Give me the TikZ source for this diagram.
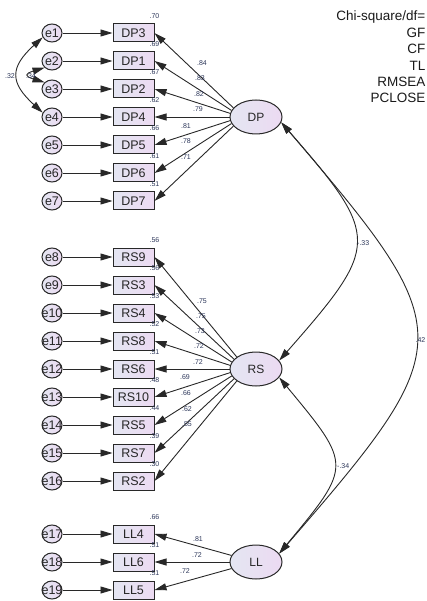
\documentclass[tikz,border=0pt]{standalone}
\usepackage{fontspec}
\setmainfont{Liberation Sans}
\usetikzlibrary{shapes.geometric,arrows.meta}

\definecolor{fillL}{RGB}{228,230,242}
\definecolor{fillR}{RGB}{236,218,242}
\definecolor{lnc}{RGB}{40,40,40}
\definecolor{numc}{RGB}{45,55,90}

\tikzset{
  err/.style={ellipse, draw=lnc, line width=1pt, left color=fillL, right color=fillR,
    minimum width=20pt, minimum height=18pt, inner sep=-5pt, text=black!85,
    font=\fontsize{12.5}{13}\selectfont},
  obs/.style={rectangle, draw=lnc, line width=1pt, left color=fillL, right color=fillR,
    minimum width=41pt, minimum height=18pt, inner sep=0pt, text=black!85,
    font=\fontsize{12.5}{13}\selectfont},
  lat/.style={ellipse, draw=lnc, line width=1pt, left color=fillL, right color=fillR,
    minimum width=52pt, minimum height=34pt, inner sep=0pt, text=black!85,
    font=\fontsize{12}{13}\selectfont},
  arr/.style={draw=lnc, line width=0.9pt, -{Triangle[length=12pt,width=7pt]}},
  cov/.style={draw=lnc, line width=0.9pt, {Triangle[length=12pt,width=7pt]}-{Triangle[length=12pt,width=7pt]}},
  num/.style={font=\fontsize{7}{8}\selectfont, text=numc, inner sep=0pt},
  gof/.style={font=\fontsize{13.5}{15}\selectfont, text=black!90, inner sep=0pt, anchor=base east},
}

\begin{document}
\begin{tikzpicture}[x=1pt,y=-1pt]
  \useasboundingbox (0,0) rectangle (426,601);

  % factors
  \node[lat] (DP) at (256,117) {DP};
  \node[lat] (RS) at (256,369) {RS};
  \node[lat] (LL) at (256,562) {LL};

  % DP items: name/R2/loading/label x/label y/start angle
  \foreach \v/\r/\l/\lx/\ly/\a [count=\i] in {DP3/.70/.84/202/63/158, DP1/.69/.83/200/78/165,
      DP2/.67/.82/199/94/172, DP4/.62/.79/198/109/180, DP5/.66/.81/186/126/188,
      DP6/.61/.78/186/141/195, DP7/.51/.71/186/157/202} {
    \node[obs] (\v) at (133.5,5+28*\i) {\v};
    \node[err] (e\i) at (52,5+28*\i) {e\i};
    \node[num] (r\v) at ([yshift=7.5pt]\v.north east) {\r};
    \node[num] (l\v) at (\lx,\ly) {\l};
    \draw[arr] (e\i) -- (\v);
    \draw[arr] (DP.\a) -- (\v.east);
  }

  % RS items
  \foreach \v/\r/\l/\lx/\ly/\a [count=\i from 8] in {RS9/.56/.75/202/301/148, RS3/.56/.75/201/316/156,
      RS4/.53/.73/200/331/164, RS8/.52/.72/199/346/172, RS6/.51/.72/198/362/180,
      RS10/.48/.69/185/377/188, RS5/.44/.66/186/393/196, RS7/.39/.62/187/409/204,
      RS2/.30/.55/187/424/212} {
    \node[obs] (\v) at (133.5,33+28*\i) {\v};
    \node[err] (e\i) at (52,33+28*\i) {e\i};
    \node[num] (r\v) at ([yshift=7.5pt]\v.north east) {\r};
    \node[num] (l\v) at (\lx,\ly) {\l};
    \draw[arr] (e\i) -- (\v);
    \draw[arr] (RS.\a) -- (\v.east);
  }

  % LL items
  \foreach \v/\r/\l/\lx/\ly/\a [count=\i from 17] in {LL4/.66/.81/198/539/165,
      LL6/.51/.72/197/555/180, LL5/.51/.72/185/571/195} {
    \node[obs] (\v) at (133.5,58+28*\i) {\v};
    \node[err] (e\i) at (52,58+28*\i) {e\i};
    \node[num] (r\v) at ([yshift=7.5pt]\v.north east) {\r};
    \node[num] (l\v) at (\lx,\ly) {\l};
    \draw[arr] (e\i) -- (\v);
    \draw[arr] (LL.\a) -- (\v.east);
  }

  % covariances
  \draw[cov] (e1.205) .. controls +(-33,30) and +(-33,-30) .. (e4.155);
  \draw[cov] (e2.222) .. controls +(-20,6) and +(-20,-6) .. (e3.138);
  \draw[cov] (DP.-12) .. controls +(100,115) and +(101,-115) .. (RS.20);
  \draw[cov] (DP.-12) .. controls +(180,210) and +(182,-210) .. (LL.20);
  \draw[cov] (RS.-20) .. controls +(73,88) and +(73,-88) .. (LL.20);

  \node[num] (c14) at (10,76) {.32};
  \node[num] (c23) at (31,76) {.34};
  \node[num, anchor=west] (cDR) at (357,243) {-.33};
  \node[num, anchor=east] (cDL) at (425.5,340) {.42};
  \node[num, anchor=west] (cRL) at (337,466) {-.34};

  % fit indices
  \foreach \t [count=\i] in {Chi-square/df=, GF, CF, TL, RMSEA, PCLOSE} {
    \node[gof] (g\i) at (425.5,21+16.4*\i-16.4) {\t};
  }
\end{tikzpicture}
\end{document}
